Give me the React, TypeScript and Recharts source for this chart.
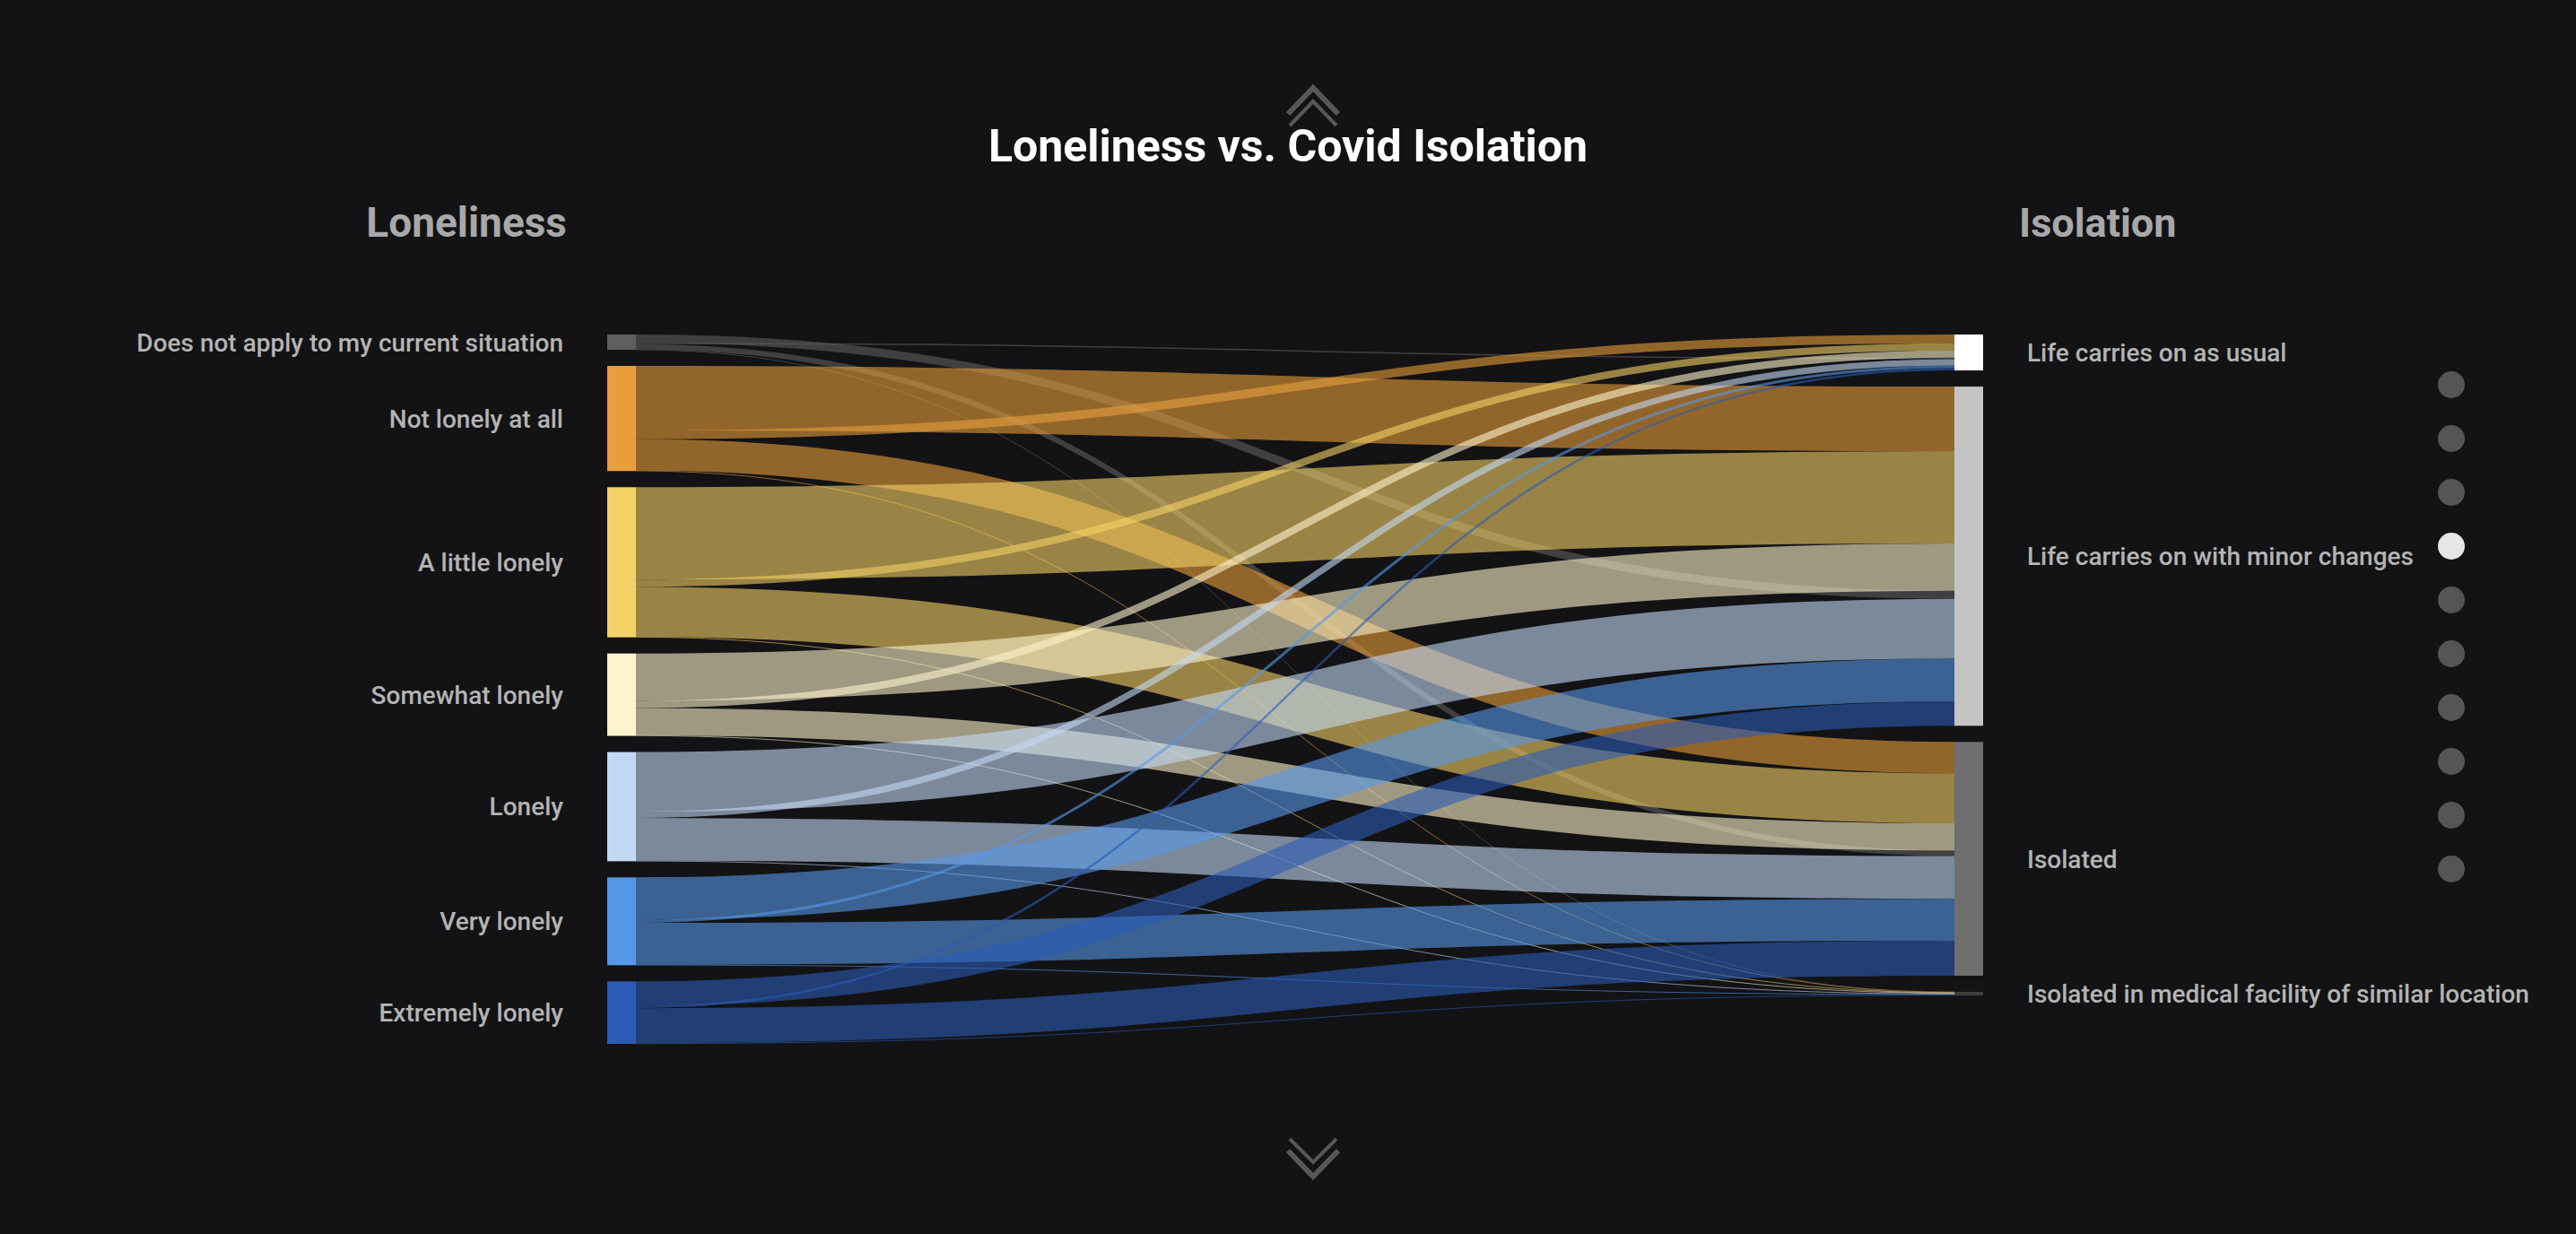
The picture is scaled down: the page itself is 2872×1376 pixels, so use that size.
import React from 'react';
import { Sankey } from 'recharts';

// ---- data ----
const leftNames = [
  'Does not apply to my current situation',
  'Not lonely at all',
  'A little lonely',
  'Somewhat lonely',
  'Lonely',
  'Very lonely',
  'Extremely lonely',
];
const rightNames = [
  'Life carries on as usual',
  'Life carries on with minor changes',
  'Isolated',
  'Isolated in medical facility of similar location',
];
// values from each loneliness level (leftNames order) into each isolation category
const toUsual = [1.5, 9.5, 8, 8, 7, 3, 2.5];
const toMinor = [9, 71, 101.5, 52, 65.5, 47, 27];
const toIsolated = [6, 34.5, 55, 30, 47, 46, 38.5];
const toMedical = [0.3, 0.6, 0.6, 0.6, 0.6, 0.6, 0.7];
const series = [toUsual, toMinor, toIsolated, toMedical];

// stacking order of links on each side (as in the original chart)
const sourceOrder = [1, 0, 2, 3];
const targetOrder = [1, 2, 3, 0, 4, 5, 6];

const leftColors = ['#5f5f5f', '#e79e3b', '#f3d166', '#fdf3cc', '#c3d8f5', '#5797e8', '#2b5bb5'];
const rightColors = ['#ffffff', '#c4c4c4', '#6f6f6f', '#3d3d3d'];

const titleText = 'Loneliness vs. Covid Isolation';
const leftHeader = 'Loneliness';
const rightHeader = 'Isolation';
const pagerDots = [0, 1, 2, 3, 4, 5, 6, 7, 8, 9];
const activeDot = 3;

const nodes = [...leftNames, ...rightNames].map((name) => ({ name }));
const links: { source: number; target: number; value: number }[] = [];
leftNames.forEach((_, i) => {
  rightNames.forEach((__, j) => {
    links.push({ source: i, target: leftNames.length + j, value: series[j][i] });
  });
});
const sankeyData = { nodes, links };

const BG = '#131315';
const FONT = 'Roboto, "Noto Sans", sans-serif';
const MARGIN = { top: 373, bottom: 212, left: 677, right: 661 };

const LinkShape = (props: any) => {
  const { sourceX, targetX, sourceY, targetY, sourceControlX, targetControlX, linkWidth, payload } = props;
  const li = leftNames.indexOf(payload.source.name);
  const rj = rightNames.indexOf(payload.target.name);
  const ratio = payload.value ? linkWidth / payload.value : 0;
  let sOff = 0;
  for (const j of sourceOrder) {
    if (j === rj) break;
    sOff += series[j][li];
  }
  let tOff = 0;
  for (const i of targetOrder) {
    if (i === li) break;
    tOff += series[rj][i];
  }
  const sRel = props.sourceRelativeY ?? payload.sy ?? 0;
  const tRel = props.targetRelativeY ?? payload.ty ?? 0;
  const sy = sourceY - sRel + sOff * ratio;
  const ty = targetY - tRel + tOff * ratio;
  return (
    <path
      d={`M${sourceX},${sy} C${sourceControlX},${sy} ${targetControlX},${ty} ${targetX},${ty}`}
      fill="none"
      stroke={leftColors[li]}
      strokeWidth={Math.max(linkWidth, 1)}
      strokeOpacity={0.6}
    />
  );
};

const NodeShape = (props: any) => {
  const { x, y, width, height, payload } = props;
  const li = leftNames.indexOf(payload.name);
  const isLeft = li >= 0;
  const color = isLeft ? leftColors[li] : rightColors[rightNames.indexOf(payload.name)];
  const cy = y + height / 2;
  return (
    <g>
      <rect x={x} y={y} width={width} height={Math.max(height, 3)} fill={color} />
      <text
        x={isLeft ? x - 49 : x + width + 49}
        y={cy + 10}
        textAnchor={isLeft ? 'end' : 'start'}
        fill="#b4b4b4"
        fontFamily={FONT}
        fontWeight={500}
        fontSize={28}
      >
        {payload.name}
      </text>
    </g>
  );
};

export default function App() {
  return (
    <div
      style={{
        position: 'absolute',
        left: 0,
        top: 0,
        width: 2872,
        height: 1376,
        background: BG,
        overflow: 'hidden',
      }}
    >
      <div style={{ position: 'absolute', left: 0, top: 0 }}>
        <Sankey
          width={2872}
          height={1376}
          data={sankeyData}
          margin={MARGIN}
          nodeWidth={32}
          nodePadding={18}
          iterations={0}
          linkCurvature={0.5}
          node={NodeShape}
          link={LinkShape}
        />
      </div>
      <svg
        width={2872}
        height={1376}
        style={{ position: 'absolute', left: 0, top: 0, pointerEvents: 'none' }}
      >
        <text x={1436} y={180} textAnchor="middle" fill="#ffffff" fontFamily={FONT} fontWeight={700} fontSize={50}>
          {titleText}
        </text>
        <text x={632} y={264} textAnchor="end" fill="#a8a8a8" fontFamily={FONT} fontWeight={700} fontSize={46}>
          {leftHeader}
        </text>
        <text x={2251} y={264} textAnchor="start" fill="#a8a8a8" fontFamily={FONT} fontWeight={700} fontSize={45}>
          {rightHeader}
        </text>
        <polyline points="1436,127 1464,98 1492,127" fill="none" stroke="#575757" strokeWidth={6} />
        <polyline points="1438,140 1464,113 1490,140" fill="none" stroke="#575757" strokeWidth={4} />
        <polyline points="1438,1270 1464,1296 1490,1270" fill="none" stroke="#575757" strokeWidth={4} />
        <polyline points="1436,1283 1464,1312 1492,1283" fill="none" stroke="#575757" strokeWidth={6} />
        {pagerDots.map((d) => (
          <circle key={d} cx={2733} cy={429 + d * 60} r={15} fill={d === activeDot ? '#e6e6e6' : '#555555'} />
        ))}
      </svg>
    </div>
  );
}
